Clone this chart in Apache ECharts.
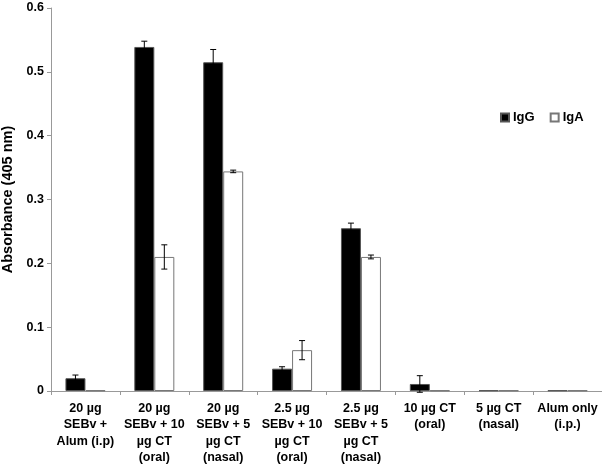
<!DOCTYPE html>
<html><head><meta charset="utf-8">
<script src="https://cdn.jsdelivr.net/npm/echarts@6/dist/echarts.min.js"></script>
<style>html,body{margin:0;padding:0;background:#fff}#c{width:602px;height:469px}</style>
</head><body><div id="c"></div>
<script>
const categories = [
  "20 \u00b5g\nSEBv +\nAlum (i.p)",
  "20 \u00b5g\nSEBv + 10\n\u00b5g CT\n(oral)",
  "20 \u00b5g\nSEBv + 5\n\u00b5g CT\n(nasal)",
  "2.5 \u00b5g\nSEBv + 10\n\u00b5g CT\n(oral)",
  "2.5 \u00b5g\nSEBv + 5\n\u00b5g CT\n(nasal)",
  "10 \u00b5g CT\n(oral)",
  "5 \u00b5g CT\n(nasal)",
  "Alum only\n(i.p.)"
];
const igG = [0.020, 0.539, 0.515, 0.035, 0.255, 0.011, 0.001, 0.001];
const igGErr = [0.005, 0.009, 0.020, 0.003, 0.008, 0.013, 0, 0];
const igA = [0.001, 0.210, 0.344, 0.064, 0.210, 0.001, 0.001, 0.001];
const igAErr = [0, 0.019, 0.002, 0.015, 0.003, 0, 0, 0];
const yTicks = [0, 0.1, 0.2, 0.3, 0.4, 0.5, 0.6];

const FONT = "Liberation Sans";
const BAR_W = 20;

function errData(vals, errs) {
  const out = [];
  vals.forEach((v, i) => { if (errs[i] > 0) out.push([i, v - errs[i], v + errs[i]]); });
  return out;
}
function errRender(offset) {
  return function (params, api) {
    const i = api.value(0);
    const lo = api.coord([i, api.value(1)]);
    const hi = api.coord([i, api.value(2)]);
    const x = lo[0] + offset;
    const cap = 3;
    const style = { stroke: '#000', lineWidth: 1 };
    return { type: 'group', children: [
      { type: 'line', shape: { x1: x, y1: lo[1], x2: x, y2: hi[1] }, style },
      { type: 'line', shape: { x1: x - cap, y1: hi[1], x2: x + cap, y2: hi[1] }, style },
      { type: 'line', shape: { x1: x - cap, y1: lo[1], x2: x + cap, y2: lo[1] }, style }
    ]};
  };
}

const chart = echarts.init(document.getElementById('c'));
chart.setOption({
  animation: false,
  textStyle: { fontFamily: FONT },
  grid: { left: 51, right: 0, top: 8, bottom: 78, containLabel: false, outerBoundsMode: 'none' },
  legend: {
    data: ['IgG', 'IgA'],
    left: 500, top: 111, padding: 0,
    itemWidth: 8, itemHeight: 8, itemGap: 15,
    textStyle: { fontFamily: FONT, fontWeight: 'bold', fontSize: 13, color: '#000', padding: [0, 0, 0, -1] },
    icon: 'rect'
  },
  xAxis: {
    type: 'category',
    data: categories,
    axisLine: { lineStyle: { color: '#999', width: 1 } },
    axisTick: { show: true, length: 4, lineStyle: { color: '#999' } },
    axisLabel: { interval: 0, fontFamily: FONT, fontWeight: 'bold', fontSize: 12.5, color: '#000', lineHeight: 16.5, margin: 9 }
  },
  yAxis: {
    type: 'value',
    min: 0, max: 0.6, interval: 0.1,
    name: 'Absorbance (405 nm)',
    nameLocation: 'middle',
    nameGap: 35,
    nameTextStyle: { fontFamily: FONT, fontWeight: 'bold', fontSize: 14.5, color: '#000' },
    splitLine: { show: false },
    axisLine: { show: true, lineStyle: { color: '#999', width: 1 } },
    axisTick: { show: true, length: 4, inside: false, lineStyle: { color: '#999' } },
    axisLabel: { fontFamily: FONT, fontWeight: 'bold', fontSize: 12.5, color: '#000', margin: 7,
      formatter: v => { const t = yTicks.find(x => Math.abs(x - v) < 1e-9); return t === 0 ? '0' : String(t); } }
  },
  series: [
    { name: 'IgG', type: 'bar', data: igG, barWidth: BAR_W, barGap: '0%',
      itemStyle: { color: '#000', borderColor: '#555', borderWidth: 1 } },
    { name: 'IgA', type: 'bar', data: igA, barWidth: BAR_W, barGap: '0%',
      itemStyle: { color: '#fff', borderColor: '#777', borderWidth: 1 } },
    { type: 'custom', data: errData(igG, igGErr), renderItem: errRender(-BAR_W / 2), z: 5, silent: true },
    { type: 'custom', data: errData(igA, igAErr), renderItem: errRender(BAR_W / 2), z: 5, silent: true }
  ]
});
</script></body></html>
